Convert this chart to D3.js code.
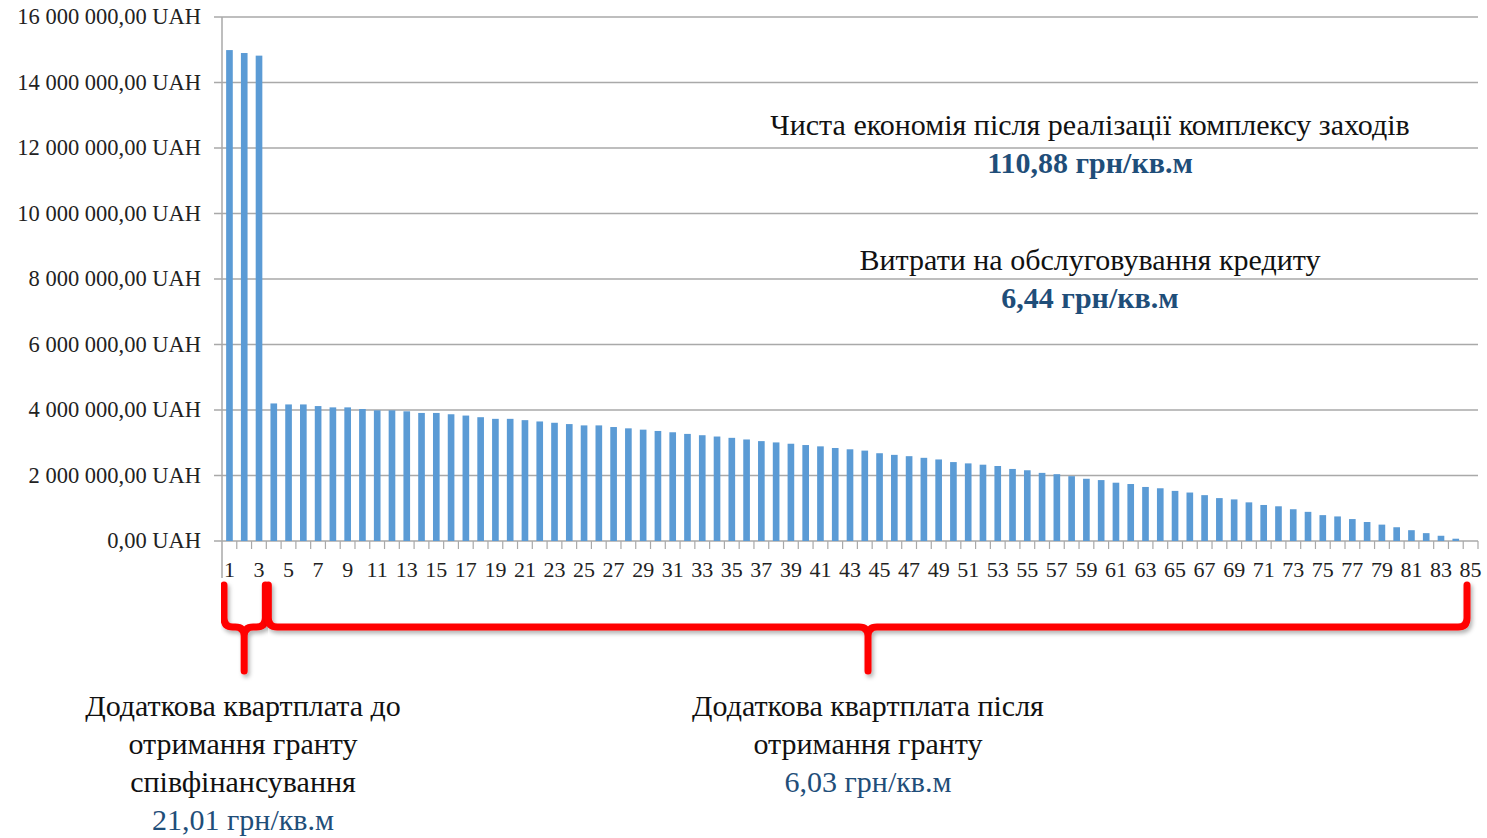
<!DOCTYPE html>
<html>
<head>
<meta charset="utf-8">
<script src="https://cdnjs.cloudflare.com/ajax/libs/d3/7.8.5/d3.min.js"></script>
<style>
  body { margin: 0; background: #fff; }
  text { font-family: "Liberation Serif", "DejaVu Serif", serif; }
</style>
</head>
<body>
<svg id="chart" width="1487" height="838"></svg>
<script>
// periods 1..85
var periods = d3.range(1, 86);

// remaining amount, UAH
var amounts = [
  14990000, 14900000, 14820000, 4200000, 4170000, 4170000, 4120000, 4080000, 4080000, 4030000,
  3990000, 3990000, 3960000, 3910000, 3910000, 3870000, 3830000, 3780000, 3730000, 3730000,
  3690000, 3650000, 3610000, 3570000, 3530000, 3530000, 3480000, 3440000, 3400000, 3360000,
  3320000, 3270000, 3230000, 3190000, 3150000, 3100000, 3050000, 3010000, 2970000, 2930000,
  2890000, 2840000, 2800000, 2760000, 2680000, 2630000, 2590000, 2540000, 2490000, 2410000,
  2370000, 2330000, 2290000, 2200000, 2160000, 2080000, 2040000, 1980000, 1900000, 1860000,
  1780000, 1740000, 1650000, 1610000, 1530000, 1480000, 1400000, 1310000, 1270000, 1180000,
  1100000, 1060000, 970000, 890000, 790000, 750000, 670000, 580000, 500000, 420000,
  330000, 240000, 160000, 70000, 0
];

var yTicks = [0, 2000000, 4000000, 6000000, 8000000, 10000000, 12000000, 14000000, 16000000];
var xTickLabels = periods.filter(function(d) { return d % 2 === 1; });

var topNote = ["Чиста економія після реалізації комплексу заходів", "110,88 грн/кв.м"];
var midNote = ["Витрати на обслуговування кредиту", "6,44 грн/кв.м"];
var leftNote = ["Додаткова квартплата до", "отримання гранту", "співфінансування", "21,01 грн/кв.м"];
var rightNote = ["Додаткова квартплата після", "отримання гранту", "6,03 грн/кв.м"];

var svg = d3.select("#chart");
var pLeft = 222, pRight = 1478, pTop = 17, pBottom = 541;

var x = d3.scaleBand()
    .domain(periods)
    .range([pLeft, pRight])
    .paddingInner(0.55)
    .paddingOuter(0.28);

var y = d3.scaleLinear()
    .domain([0, 16000000])
    .range([pBottom, pTop]);

var ua = d3.formatLocale({decimal: ",", thousands: " ", grouping: [3], currency: ["", ""]});
var fmt = ua.format(",.2f");

// grid
svg.append("g")
  .selectAll("line")
  .data(yTicks)
  .enter().append("line")
    .attr("x1", pLeft - 8)
    .attr("x2", pRight)
    .attr("y1", function(d) { return y(d); })
    .attr("y2", function(d) { return y(d); })
    .attr("stroke", "#a9a9a9")
    .attr("stroke-width", 1.5);

// y labels
svg.append("g")
  .selectAll("text")
  .data(yTicks)
  .enter().append("text")
    .attr("x", 201)
    .attr("y", function(d) { return y(d); })
    .attr("dy", "0.33em")
    .attr("text-anchor", "end")
    .attr("font-size", 22.5)
    .attr("fill", "#222")
    .text(function(d) { return fmt(d) + " UAH"; });

// bars
svg.append("g")
  .selectAll("rect")
  .data(amounts)
  .enter().append("rect")
    .attr("x", function(d, i) { return x(periods[i]); })
    .attr("width", x.bandwidth())
    .attr("y", function(d) { return y(d); })
    .attr("height", function(d) { return pBottom - y(d); })
    .attr("fill", "#5b9bd5");

// x axis
var bounds = d3.range(0, periods.length + 1).map(function(i) { return pLeft + i * (pRight - pLeft) / periods.length; });
svg.append("line")
    .attr("x1", pLeft).attr("x2", pLeft)
    .attr("y1", pTop).attr("y2", 578)
    .attr("stroke", "#a9a9a9").attr("stroke-width", 1.5);
svg.append("g")
  .selectAll("line")
  .data(bounds.slice(1))
  .enter().append("line")
    .attr("x1", function(d) { return d; })
    .attr("x2", function(d) { return d; })
    .attr("y1", pBottom)
    .attr("y2", pBottom + 8)
    .attr("stroke", "#a9a9a9")
    .attr("stroke-width", 1.2);

svg.append("g")
  .selectAll("text")
  .data(xTickLabels)
  .enter().append("text")
    .attr("x", function(d) { return x(d) + x.bandwidth() / 2; })
    .attr("y", 577)
    .attr("text-anchor", "middle")
    .attr("font-size", 22)
    .attr("fill", "#222")
    .text(function(d) { return d; });

// notes
function note(lines, cx, y0, lh, blueFrom, bold) {
  var g = svg.append("g");
  lines.forEach(function(t, i) {
    g.append("text")
      .attr("x", cx)
      .attr("y", y0 + i * lh)
      .attr("text-anchor", "middle")
      .attr("font-size", 30)
      .attr("font-weight", (i >= blueFrom && bold) ? "bold" : "normal")
      .attr("fill", i >= blueFrom ? "#1f4e79" : "#111")
      .text(t);
  });
}
note(topNote, 1090, 135, 38, 1, true);
note(midNote, 1090, 270, 38, 1, true);
note(leftNote, 243, 716, 38, 3, false);
note(rightNote, 868, 716, 38, 2, false);

// braces
var defs = svg.append("defs");
var f = defs.append("filter").attr("id", "sh").attr("x", "-5%").attr("y", "-20%").attr("width", "110%").attr("height", "160%");
f.append("feDropShadow").attr("dx", 2).attr("dy", 3).attr("stdDeviation", 2)
  .attr("flood-color", "#000").attr("flood-opacity", 0.3);

function brace(x0, x1, xm) {
  var yt = 585, yh = 627, yb = 671, r = 9;
  var p = d3.path();
  p.moveTo(x0, yt);
  p.lineTo(x0, yh - r);
  p.quadraticCurveTo(x0, yh, x0 + r, yh);
  p.lineTo(xm - r, yh);
  p.quadraticCurveTo(xm, yh, xm, yh + r);
  p.lineTo(xm, yb);
  p.moveTo(xm, yh + r);
  p.quadraticCurveTo(xm, yh, xm + r, yh);
  p.lineTo(x1 - r, yh);
  p.quadraticCurveTo(x1, yh, x1, yh - r);
  p.lineTo(x1, yt);
  svg.append("path")
    .attr("d", p.toString())
    .attr("fill", "none")
    .attr("stroke", "#ff0000")
    .attr("stroke-width", 7)
    .attr("stroke-linecap", "round")
    .attr("stroke-linejoin", "round")
    .attr("filter", "url(#sh)");
}
brace(bounds[0] + 2, bounds[3] - 1, (bounds[0] + bounds[3]) / 2);
brace(bounds[3] + 2, bounds[85] - 11, 868);
</script>
</body>
</html>
